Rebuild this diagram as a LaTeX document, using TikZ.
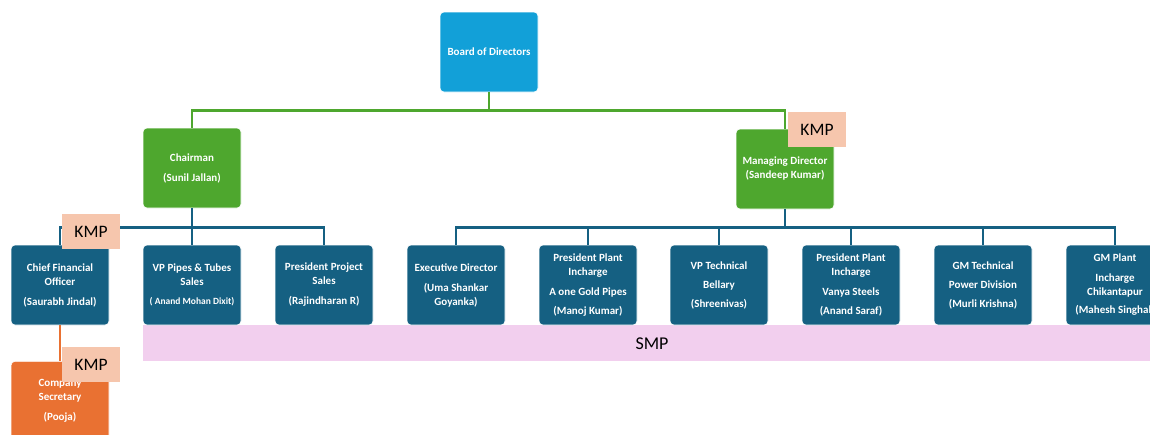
\documentclass[tikz,border=0pt]{standalone}
\usepackage{fontspec}
\setmainfont{Carlito}
\definecolor{boardc}{HTML}{12A0D8}
\definecolor{greenc}{HTML}{4EA72E}
\definecolor{bluec}{HTML}{156082}
\definecolor{orangec}{HTML}{E97132}
\definecolor{peachc}{HTML}{F6C6AD}
\definecolor{pinkc}{HTML}{F2CFEE}
\begin{document}
\begin{tikzpicture}[x=1pt,y=-1pt,
  box/.style={rounded corners=4pt, draw=white, line width=0.6pt, minimum width=98pt, minimum height=80pt,
    inner sep=0pt, align=center, text=white, font=\bfseries\fontsize{11}{14}\selectfont},
  bluebox/.style={box, fill=bluec},
  kmp/.style={fill=peachc, minimum width=58pt, minimum height=35pt, inner sep=0pt, font=\fontsize{17.5}{17.5}\selectfont, text=black},
  gline/.style={draw=greenc, line width=2.8pt},
  bline/.style={draw=bluec, line width=2.8pt},
  oline/.style={draw=orangec, line width=2.8pt}
]
\useasboundingbox (0,0) rectangle (1150,434);
\clip (0,0) rectangle (1150,434);

% SMP band
\node[fill=pinkc, minimum width=1010pt, minimum height=36pt, inner sep=0pt, anchor=north west] (smp) at (143,325) {};
\node[font=\fontsize{18}{18}\selectfont, text=black] (smpt) at (652,344) {SMP};

% nodes
\node[box, fill=boardc] (board) at (489,52) {Board of Directors};
\node[box, fill=greenc] (chair) at (192,168) {Chairman\\[6pt](Sunil Jallan)};
\node[box, fill=greenc] (md) at (785,169) {Managing Director\\(Sandeep Kumar)};

\node[bluebox] (cfo) at (60,285) {Chief Financial\\Officer\\[6pt](Saurabh Jindal)};
\node[bluebox] (vpp) at (192,285) {VP Pipes \& Tubes\\Sales\\[5pt]{\fontsize{9.5}{12}\selectfont ( Anand Mohan Dixit)}};
\node[bluebox] (ppr) at (324,285) {President Project\\Sales\\[6pt](Rajindharan R)};

\node[bluebox] (ed) at (456,285) {Executive Director\\[6pt](Uma Shankar\\Goyanka)};
\node[bluebox] (ppa) at (588,285) {President Plant\\Incharge\\[6pt]A one Gold Pipes\\[5pt](Manoj Kumar)};
\node[bluebox] (vpt) at (719,285) {VP Technical\\[5pt]Bellary\\[5pt](Shreenivas)};
\node[bluebox] (ppv) at (851,285) {President Plant\\Incharge\\[6pt]Vanya Steels\\[5pt](Anand Saraf)};
\node[bluebox] (gmt) at (983,285) {GM Technical\\[5pt]Power Division\\[5pt](Murli Krishna)};
\node[bluebox] (gmp) at (1115,285) {GM Plant\\[6pt]Incharge\\Chikantapur\\[4pt](Mahesh Singhal)};

\node[box, fill=orangec, anchor=north] (cs) at (60,361) {Company\\Secretary\\[6pt](Pooja)};

% connectors
\draw[gline] (board.south) -- ++(0,18) coordinate (gb) -| (chair.north);
\draw[gline] (gb) -| (md.north);

\draw[bline] (chair.south) -- ++(0,19) coordinate (cb) -| (cfo.north);
\draw[bline] (cb) -| (vpp.north);
\draw[bline] (cb) -| (ppr.north);

\draw[bline] (md.south) -- ++(0,18) coordinate (mb) -| (ed.north);
\draw[bline] (mb) -| (ppa.north);
\draw[bline] (mb) -| (vpt.north);
\draw[bline] (mb) -| (ppv.north);
\draw[bline] (mb) -| (gmt.north);
\draw[bline] (mb) -| (gmp.north);

\draw[oline] (cfo.south) -- (cs.north);

% KMP labels
\node[kmp] (k1) at (817,129.5) {KMP};
\node[kmp] (k2) at (91,231.5) {KMP};
\node[kmp] (k3) at (91,364.5) {KMP};
\end{tikzpicture}
\end{document}
